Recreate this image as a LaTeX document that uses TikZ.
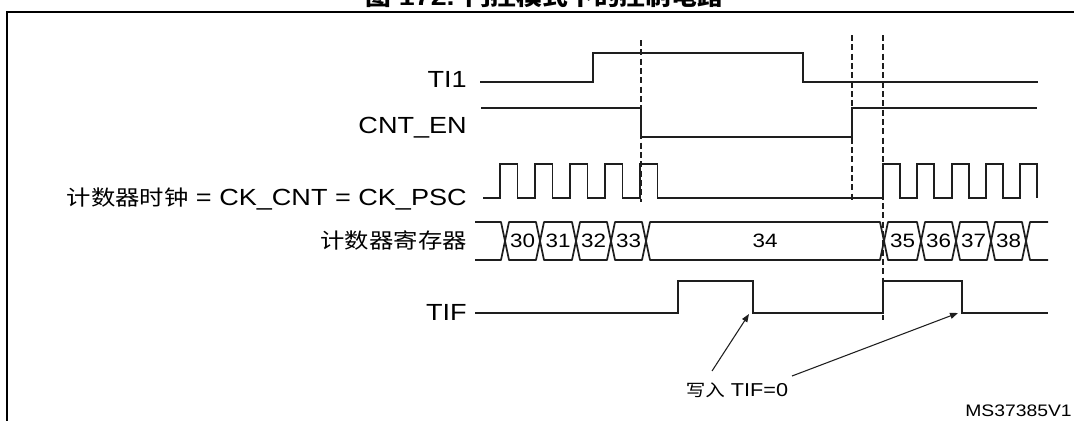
\documentclass[tikz,border=0pt]{standalone}
\usepackage{fontspec}
\setmainfont{Liberation Sans}[FakeStretch=1.16]
\newfontfamily\cjk{Noto Sans CJK SC}[Scale=0.9,FakeStretch=1.16]
\usetikzlibrary{arrows.meta,calc}
\definecolor{ink}{RGB}{30,30,30}
\tikzset{
  sig/.style={draw=ink,line width=1.3pt},
  bus/.style={draw=ink,line width=1.3pt,line join=round},
  guide/.style={draw=ink,line width=0.9pt,dash pattern=on 4.5pt off 2.5pt},
  frame/.style={draw=black,line width=1.6pt},
  lbl/.style={anchor=base east,inner sep=0pt,font=\fontsize{17.5pt}{19pt}\selectfont},
  busval/.style={inner sep=0pt,font=\fontsize{14.5pt}{16pt}\selectfont},
  note/.style={inner sep=0pt,font=\fontsize{14pt}{16pt}\selectfont},
  wrarr/.style={-{Triangle[length=6pt,width=4.5pt]},line width=0.8pt,draw=ink},
}

\begin{document}
\begin{tikzpicture}[x=0.75pt,y=-0.75pt]
\useasboundingbox (0,0) rectangle (1074,421);
% caption and frame
\node[anchor=base,inner sep=0pt,font=\fontsize{18.5pt}{20pt}\selectfont\bfseries] (ttl) at (544,6)
  {{\cjk 图} 172. {\cjk 门控模式下的控制电路}};
\draw[frame] (1090,12) -- (7,12) -- (7,440);
% signal names
\node[lbl] (ti1) at (467,87.5) {TI1};
\node[lbl] (cnten) at (467,133) {CNT\_EN};
\node[lbl] (ckcnt) at (467,205.5) {{\cjk 计数器时钟} = CK\_CNT = CK\_PSC};
\node[lbl] (cntreg) at (467,248.5) {\cjk 计数器寄存器};
\node[lbl] (tif) at (467,320) {TIF};
% TI1 and CNT_EN
\draw[sig] (480,81.7) -- (593,81.7) -- (593,52.7) -- (803,52.7) -- (803,81.7) -- (1038,81.7);
\draw[sig] (481,107.7) -- (641,107.7) -- (641,136.7) -- (852,136.7) -- (852,107.7) -- (1037,107.7);
% counter clock
\draw[sig] (483,198)
  \foreach \r in {500,535,570,605,640}{ -- (\r,198) -- (\r,164) -- (\r+17.5,164) -- (\r+17.5,198)}
  \foreach \r in {883,917.3,951.7,986,1020.3}{ -- (\r,198) -- (\r,164) -- (\r+17,164) -- (\r+17,198)};
% counter register
\draw[bus] (475,222) -- (501,222) -- (505,241) -- (501,260) -- (475,260);
\foreach \a/\b/\v in {505/540/30,540/576/31,576/611/32,611/646/33,646/884/34,884/921/35,921/956/36,956/991/37,991/1026/38}{
  \draw[bus] (\a,241) -- (\a+4,222) -- (\b-4,222) -- (\b,241) -- (\b-4,260) -- (\a+4,260) -- cycle;
  \node[busval] (v\v) at ({(\a+\b)/2},241) {\v};
}
\draw[bus] (1048,222) -- (1030,222) -- (1026,241) -- (1030,260) -- (1048,260);
% TIF
\draw[sig] (475,313) -- (678,313) -- (678,281) -- (753,281) -- (753,313) -- (883,313)
  -- (883,281) -- (962,281) -- (962,313) -- (1048,313);
% guides
\draw[guide] (641,40) -- (641,202);
\draw[guide] (852,35) -- (852,200);
\draw[guide] (883,35) -- (883,320);
% write TIF=0
\node[note] (wr) at (737,390) {{\cjk 写入} TIF=0};
\coordinate (tipA) at (749,314);
\coordinate (tipB) at (958,313);
\draw[wrarr] ([shift={(-25,-19)}]wr.center) -- (tipA);
\draw[wrarr] ([shift={(55,-14)}]wr.center) -- (tipB);
\node[anchor=base east,inner sep=0pt,font=\fontsize{12.5pt}{14pt}\selectfont] (ms) at (1072,416) {MS37385V1};
\end{tikzpicture}
\end{document}
